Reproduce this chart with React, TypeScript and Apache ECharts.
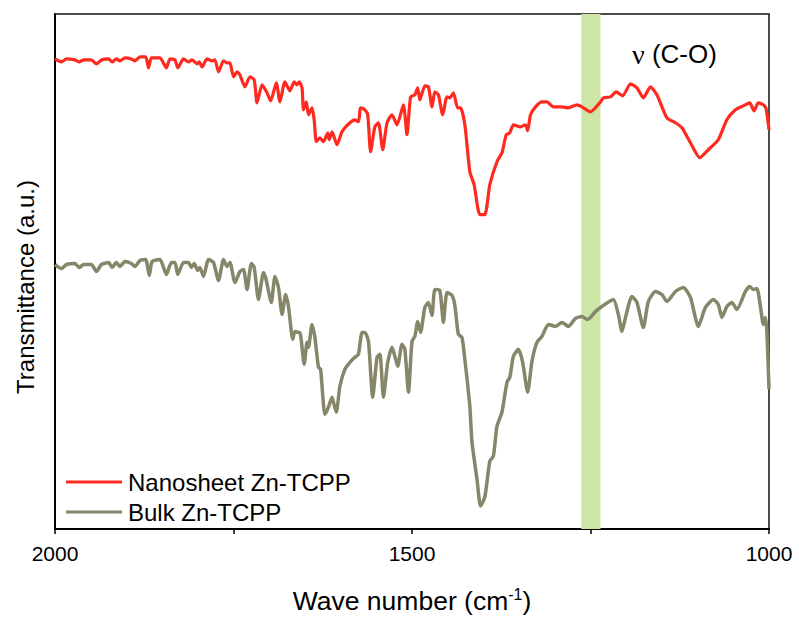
import React, { useEffect, useRef } from "react";
import * as echarts from "echarts";

// [wavenumber (cm^-1), transmittance (a.u.)]
const nanosheetData: [number, number][] = [
  [2000, 471], [1991, 468], [1984, 471], [1972, 470], [1966, 468], [1960, 470], [1949, 470], [1942, 466],
  [1935, 470], [1925, 471], [1920, 468], [1914, 471], [1909, 469], [1902, 472], [1893, 471], [1888, 469],
  [1881, 473], [1873, 473], [1869, 462], [1865, 472], [1853, 472], [1844, 462], [1839, 471], [1832, 470],
  [1828, 462], [1820, 471], [1813, 468], [1808, 470], [1801, 466], [1798, 468], [1794, 463], [1787, 471],
  [1780, 469], [1776, 470], [1771, 458], [1764, 469], [1759, 467], [1755, 467], [1750, 453], [1745, 458],
  [1741, 455], [1734, 443], [1727, 453], [1721, 450], [1717, 427], [1710, 445], [1703, 437], [1698, 429],
  [1690, 447], [1685, 428], [1678, 448], [1671, 439], [1665, 448], [1661, 445], [1658, 448], [1654, 442],
  [1652, 420], [1648, 428], [1645, 415], [1640, 422], [1637, 410], [1634, 388], [1629, 392], [1624, 388],
  [1618, 397], [1616, 390], [1612, 398], [1605, 385], [1598, 398], [1587, 407], [1580, 410], [1575, 408],
  [1572, 422], [1566, 420], [1562, 415], [1558, 378], [1552, 403], [1547, 407], [1541, 380], [1535, 407],
  [1528, 415], [1521, 405], [1512, 425], [1507, 395], [1502, 433], [1496, 435], [1492, 442], [1489, 430],
  [1482, 444], [1477, 443], [1472, 423], [1468, 438], [1463, 435], [1457, 415], [1451, 433], [1447, 432],
  [1442, 437], [1436, 422], [1432, 422], [1426, 405], [1419, 358], [1413, 345], [1405, 315], [1398, 315],
  [1391, 345], [1381, 368], [1374, 377], [1368, 395], [1363, 397], [1358, 405], [1348, 403], [1341, 405],
  [1338, 399], [1334, 415], [1327, 423], [1318, 428], [1311, 428], [1302, 423], [1290, 423], [1281, 422],
  [1269, 425], [1262, 423], [1250, 418], [1236, 428], [1232, 432], [1222, 433], [1214, 438], [1205, 434],
  [1194, 446], [1185, 442], [1176, 432], [1166, 443], [1157, 435], [1143, 412], [1131, 407], [1122, 402],
  [1110, 387], [1097, 372], [1085, 380], [1071, 390], [1059, 410], [1047, 420], [1036, 424], [1027, 427],
  [1021, 419], [1015, 427], [1008, 425], [1004, 421], [1000, 400],
];

const bulkData: [number, number][] = [
  [2000, 265], [1991, 261], [1984, 265], [1972, 266], [1966, 262], [1960, 265], [1949, 265], [1942, 258],
  [1935, 265], [1925, 267], [1920, 262], [1914, 267], [1909, 263], [1902, 268], [1893, 266], [1888, 263],
  [1881, 269], [1873, 270], [1868, 254], [1864, 268], [1853, 270], [1844, 255], [1837, 267], [1832, 267],
  [1828, 255], [1820, 267], [1813, 267], [1809, 262], [1805, 266], [1800, 259], [1797, 262], [1792, 253],
  [1785, 270], [1778, 267], [1771, 249], [1764, 270], [1759, 263], [1755, 267], [1748, 247], [1741, 258],
  [1736, 260], [1731, 240], [1725, 266], [1721, 262], [1715, 230], [1708, 257], [1705, 252], [1697, 227],
  [1692, 253], [1687, 242], [1682, 215], [1677, 235], [1673, 223], [1667, 190], [1664, 198], [1659, 197],
  [1657, 197], [1651, 165], [1647, 187], [1645, 182], [1640, 205], [1636, 192], [1631, 162], [1628, 160],
  [1622, 115], [1617, 122], [1612, 132], [1610, 127], [1606, 117], [1601, 143], [1594, 160], [1587, 167],
  [1580, 172], [1575, 175], [1570, 197], [1566, 197], [1561, 188], [1555, 132], [1549, 172], [1545, 175],
  [1540, 132], [1534, 167], [1528, 182], [1524, 173], [1520, 163], [1514, 185], [1510, 180], [1505, 137],
  [1500, 188], [1496, 193], [1492, 208], [1488, 197], [1482, 222], [1477, 227], [1472, 214], [1468, 240],
  [1461, 239], [1456, 207], [1451, 237], [1444, 234], [1440, 224], [1435, 195], [1430, 192], [1426, 170],
  [1419, 123], [1416, 87], [1409, 50], [1404, 23], [1398, 32], [1391, 68], [1386, 73], [1381, 103],
  [1374, 117], [1367, 147], [1363, 152], [1358, 173], [1351, 180], [1345, 167], [1338, 137], [1332, 168],
  [1325, 187], [1318, 193], [1309, 205], [1299, 203], [1290, 207], [1281, 203], [1271, 211], [1262, 213],
  [1255, 210], [1250, 212], [1243, 218], [1236, 222], [1218, 230], [1211, 215], [1206, 198], [1201, 212],
  [1192, 233], [1185, 227], [1176, 202], [1169, 228], [1159, 238], [1150, 235], [1143, 228], [1131, 238],
  [1120, 242], [1110, 232], [1099, 203], [1089, 222], [1078, 230], [1071, 225], [1066, 212], [1059, 223],
  [1052, 227], [1045, 220], [1033, 238], [1027, 243], [1022, 240], [1017, 241], [1012, 223], [1008, 205],
  [1005, 212], [1003, 198], [1000, 140],
];

const seriesNames = ["Nanosheet Zn-TCPP", "Bulk Zn-TCPP"];
const seriesColors = ["#ff2a1f", "#86866a"];
const bandRange: [number, number] = [1263, 1236];
const xTicks = { min: 1000, max: 2000, interval: 250, labelEvery: 500 };
const annotation = "(C-O)";
const yTitle = "Transmittance (a.u.)";

const FONT = 'Arial, "Liberation Sans", sans-serif';

export default function App() {
  const ref = useRef<HTMLDivElement>(null);
  useEffect(() => {
    if (!ref.current) return;
    const chart = echarts.init(ref.current, null, { renderer: "svg" });
    chart.setOption({
      animation: false,
      backgroundColor: "#ffffff",
      grid: {
        left: 55,
        right: 30,
        top: 14,
        bottom: 89,
        show: true,
        borderColor: "#111",
        borderWidth: 1.5,
        backgroundColor: "transparent",
      },
      legend: {
        orient: "vertical",
        left: 66,
        top: 470,
        padding: 0,
        icon: "rect",
        itemWidth: 56,
        itemHeight: 3,
        itemGap: 6,
        data: seriesNames,
        textStyle: { fontFamily: FONT, fontSize: 24, lineHeight: 24, color: "#000", padding: [0, 0, 0, 1] },
      },
      xAxis: {
        type: "value",
        min: xTicks.min,
        max: xTicks.max,
        interval: xTicks.interval,
        inverse: true,
        name: "Wave number (cm{sup|-1})",
        nameLocation: "middle",
        nameGap: 57,
        nameTextStyle: {
          fontFamily: FONT,
          fontSize: 26.5,
          color: "#000",
          rich: {
            sup: { fontFamily: FONT, fontSize: 16, color: "#000", padding: [0, 0, 13, 0] },
          },
        },
        axisLine: { show: true, lineStyle: { color: "#000", width: 2 } },
        axisTick: { show: true, length: 5, inside: false, lineStyle: { color: "#000", width: 1.5 } },
        axisLabel: {
          fontFamily: FONT,
          fontSize: 21,
          color: "#000",
          margin: 14,
          formatter: (v: number) => (v % xTicks.labelEvery === 0 ? String(v) : ""),
        },
        splitLine: { show: false },
      },
      yAxis: {
        type: "value",
        min: 0,
        max: 516,
        axisLine: { show: true, lineStyle: { color: "#000", width: 2 } },
        axisTick: { show: false },
        axisLabel: { show: false },
        splitLine: { show: false },
      },
      series: [
        {
          name: "band",
          type: "line",
          data: [],
          z: 1,
          silent: true,
          markArea: {
            silent: true,
            itemStyle: { color: "#cde6a6", opacity: 1 },
            data: [[{ xAxis: bandRange[0] }, { xAxis: bandRange[1] }]],
          },
        },
        {
          name: seriesNames[0],
          type: "line",
          data: nanosheetData,
          symbol: "none",
          smooth: 0.2,
          z: 3,
          lineStyle: { color: seriesColors[0], width: 3.2, join: "round" },
          itemStyle: { color: seriesColors[0] },
        },
        {
          name: seriesNames[1],
          type: "line",
          data: bulkData,
          symbol: "none",
          smooth: 0.2,
          z: 3,
          lineStyle: { color: seriesColors[1], width: 3.5, join: "round" },
          itemStyle: { color: seriesColors[1] },
        },
      ],
      graphic: [
        {
          type: "text",
          x: 25,
          y: 287,
          rotation: Math.PI / 2,
          style: {
            text: yTitle,
            font: `24px ${FONT}`,
            fill: "#000",
            align: "center",
            verticalAlign: "middle",
          },
        },
        {
          type: "text",
          left: 632,
          top: 40,
          style: {
            text: "{g|ν} " + annotation,
            font: `26px ${FONT}`,
            fill: "#000",
            rich: {
              g: { fontFamily: '"Liberation Serif", "Times New Roman", serif', fontSize: 28, fill: "#000" },
            },
          },
        },
      ],
    });
    return () => chart.dispose();
  }, []);
  return (
    <div
      ref={ref}
      style={{ position: "fixed", left: 0, top: 0, width: 799, height: 619, background: "#fff" }}
    />
  );
}
